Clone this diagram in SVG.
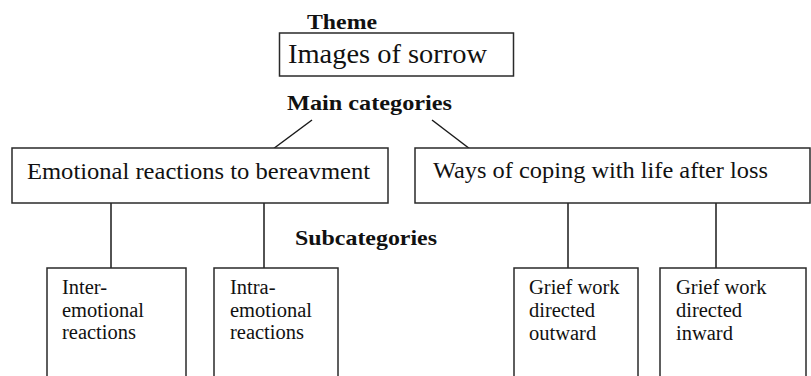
<svg xmlns="http://www.w3.org/2000/svg" width="811" height="376" viewBox="0 0 811 376">
<style>
.box{fill:#fff;stroke:#2a2a2a;stroke-width:1.5}
.ln{stroke:#1a1a1a;stroke-width:1.5;fill:none}
.t{font-family:"Liberation Serif","Times New Roman",serif;fill:#111}
.b{font-family:"Liberation Serif","Times New Roman",serif;font-weight:bold;fill:#111;font-size:21px}
.s{font-size:20.5px}
</style>
<rect width="811" height="376" fill="#fff"/>
<g id="labels">
<text class="b" x="307" y="29" textLength="70" lengthAdjust="spacingAndGlyphs">Theme</text>
<text class="b" x="287" y="110" textLength="165" lengthAdjust="spacingAndGlyphs">Main categories</text>
<text class="b" x="295" y="245" textLength="142" lengthAdjust="spacingAndGlyphs">Subcategories</text>
</g>
<g id="connectors">
<line class="ln" x1="312" y1="120" x2="273" y2="149"/>
<line class="ln" x1="432" y1="120" x2="470" y2="149"/>
<line class="ln" x1="111" y1="203" x2="111" y2="268"/>
<line class="ln" x1="264" y1="203" x2="264" y2="268"/>
<line class="ln" x1="568" y1="203" x2="568" y2="268"/>
<line class="ln" x1="716" y1="203" x2="716" y2="268"/>
</g>
<g id="theme">
<rect class="box" x="279.5" y="33" width="234" height="43"/>
<text class="t" x="288" y="63" font-size="28" textLength="199" lengthAdjust="spacingAndGlyphs">Images of sorrow</text>
</g>
<g id="emotional">
<rect class="box" x="12" y="148" width="376" height="55"/>
<text class="t" x="27" y="179" font-size="24" textLength="343" lengthAdjust="spacingAndGlyphs">Emotional reactions to bereavment</text>
</g>
<g id="coping">
<rect class="box" x="415" y="148" width="395" height="55"/>
<text class="t" x="433" y="178" font-size="24" textLength="335" lengthAdjust="spacingAndGlyphs">Ways of coping with life after loss</text>
</g>
<g id="inter">
<rect class="box" x="47" y="268" width="139" height="120"/>
<text class="t s" x="62" y="294">Inter-</text>
<text class="t s" x="62" y="317">emotional</text>
<text class="t s" x="62" y="339">reactions</text>
</g>
<g id="intra">
<rect class="box" x="214" y="268" width="124" height="120"/>
<text class="t s" x="230" y="294">Intra-</text>
<text class="t s" x="230" y="317">emotional</text>
<text class="t s" x="230" y="339">reactions</text>
</g>
<g id="outward">
<rect class="box" x="514" y="268" width="124" height="120"/>
<text class="t s" x="529" y="294">Grief work</text>
<text class="t s" x="529" y="317">directed</text>
<text class="t s" x="529" y="340">outward</text>
</g>
<g id="inward">
<rect class="box" x="660" y="268" width="146" height="120"/>
<text class="t s" x="676" y="294">Grief work</text>
<text class="t s" x="676" y="317">directed</text>
<text class="t s" x="676" y="340">inward</text>
</g>
</svg>
